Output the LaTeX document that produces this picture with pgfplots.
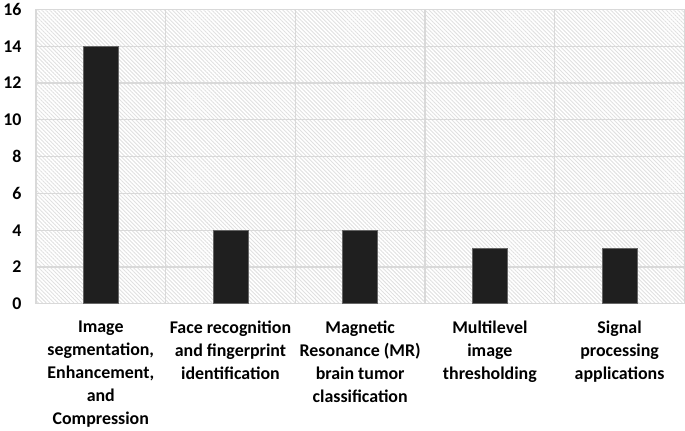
\documentclass[border=0pt]{standalone}
\usepackage{pgfplots}
\pgfplotsset{compat=1.18}
\usepackage{fontspec}
\setmainfont{Carlito}
\usetikzlibrary{patterns.meta}
\definecolor{barc}{HTML}{1F1F1F}
\definecolor{gridc}{HTML}{D9D9D9}
\definecolor{hatchc}{HTML}{E0E0E0}
\begin{document}
\begin{tikzpicture}
\begin{axis}[
  width=650bp, height=295bp, scale only axis,
  xmin=-0.5, xmax=4.5, ymin=0, ymax=16,
  ytick={0,2,...,16},
  xtick={0,1,2,3,4},
  xticklabels={{Image\\segmentation,\\Enhancement,\\and\\Compression},
               {Face recognition\\and fingerprint\\identification},
               {Magnetic\\Resonance (MR)\\brain tumor\\classification},
               {Multilevel\\image\\thresholding},
               {Signal\\processing\\applications}},
  minor xtick={0.5,1.5,2.5,3.5},
  xminorgrids, ymajorgrids,
  grid style={gridc, line width=1.2pt},
  minor grid style={gridc, line width=1.2pt},
  axis line style={gridc, line width=1.2pt},
  major tick length=0pt, minor tick length=0pt,
  tick style={draw=none},
  axis background/.style={pattern={Lines[angle=-45,distance=2.8bp,line width=0.9bp]}, pattern color=hatchc},
  /pgf/number format/assume math mode=true,
  yticklabel style={font=\bfseries\fontsize{18}{20}\selectfont, xshift=-11bp},
  xticklabel style={align=center, yshift=-14bp, font=\bfseries\fontsize{18}{23}\selectfont},
  bar width=35bp,
]
\addplot[ybar, fill=barc, draw=gray!80!black, line width=0.6pt] coordinates {(0,14) (1,4) (2,4) (3,3) (4,3)};
\end{axis}
\end{tikzpicture}
\end{document}
